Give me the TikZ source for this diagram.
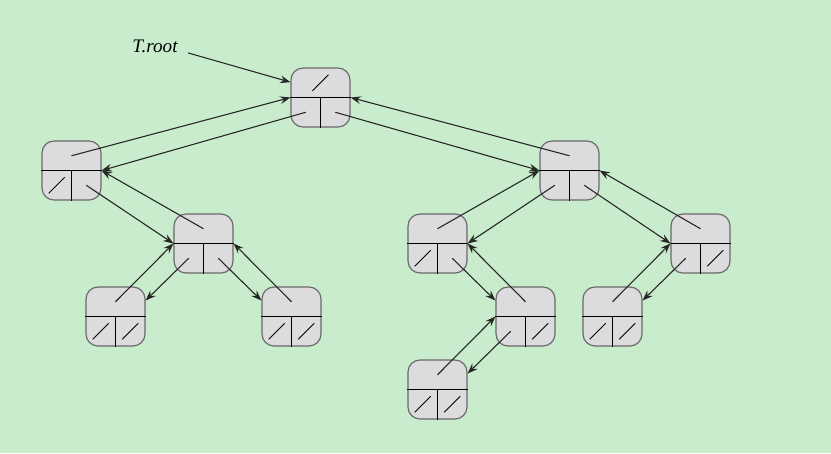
\documentclass[tikz,border=0pt]{standalone}
\usepackage{fontspec}
\setmainfont{Liberation Serif}
\usepackage{tikz}
\usetikzlibrary{arrows.meta, positioning, calc}
\definecolor{bgreen}{RGB}{200,236,204}
\definecolor{cellgray}{RGB}{220,220,223}
\definecolor{rimgray}{RGB}{105,105,105}

\begin{document}
\begin{tikzpicture}[x=0.6pt, y=-0.6pt, >={Stealth[length=6.2pt,width=4.6pt,inset=2.2pt]},
  treenode/.style={draw=rimgray, line width=0.7pt, fill=cellgray, rounded corners=7.2pt,
    minimum width=35.4pt, minimum height=35.4pt, inner sep=0pt},
  cellline/.style={line width=0.6pt, black},
  ptr/.style={->, line width=0.65pt, black!85}]
  \fill[bgreen] (0,0) rectangle (831,453);
  \useasboundingbox (0,0) rectangle (831,453);

  % tree nodes
  \node[treenode] (root) at (320.5,97.5) {};
  \node[treenode] (l)    at (71.5,170.5) {};
  \node[treenode] (r)    at (569.5,170.5) {};
  \node[treenode] (lr)   at (203.5,243.5) {};
  \node[treenode] (lrl)  at (115.5,316.5) {};
  \node[treenode] (lrr)  at (291.5,316.5) {};
  \node[treenode] (rl)   at (437.5,243.5) {};
  \node[treenode] (rlr)  at (525.5,316.5) {};
  \node[treenode] (rlrl) at (437.5,389.5) {};
  \node[treenode] (rr)   at (700.5,243.5) {};
  \node[treenode] (rrl)  at (612.5,316.5) {};

  % fields: parent, left, right
  \foreach \n in {root,l,r,lr,lrl,lrr,rl,rlr,rlrl,rr,rrl} {
    \draw[cellline] (\n.west) -- (\n.east);
    \draw[cellline] (\n.center) -- (\n.south);
    \coordinate (\n-p) at ($(\n)+(0,-14.75)$);
    \coordinate (\n-l) at ($(\n)+(-14.75,14.75)$);
    \coordinate (\n-r) at ($(\n)+(14.75,14.75)$);
  }

  % nil pointers
  \foreach \n/\k in {root/p, l/l, lrl/l, lrl/r, lrr/l, lrr/r, rl/l, rlr/r,
                     rlrl/l, rlrl/r, rr/r, rrl/l, rrl/r}
    \draw[cellline] ($(\n-\k)+(-8,8)$) -- ($(\n-\k)+(8,-8)$);

  % child and parent pointers
  \draw[ptr] (root-l) -- (l.east);
  \draw[ptr] (l-p) -- (root.west);
  \draw[ptr] (root-r) -- (r.west);
  \draw[ptr] (r-p) -- (root.east);
  \draw[ptr] (l-r) -- (lr.west);
  \draw[ptr] (lr-p) -- (l.east);
  \draw[ptr] (lr-l) -- (lrl.28);
  \draw[ptr] (lrl-p) -- (lr.west);
  \draw[ptr] (lr-r) -- (lrr.152);
  \draw[ptr] (lrr-p) -- (lr.east);
  \draw[ptr] (r-l) -- (rl.east);
  \draw[ptr] (rl-p) -- (r.west);
  \draw[ptr] (r-r) -- (rr.west);
  \draw[ptr] (rr-p) -- (r.east);
  \draw[ptr] (rl-r) -- (rlr.152);
  \draw[ptr] (rlr-p) -- (rl.east);
  \draw[ptr] (rlr-l) -- (rlrl.28);
  \draw[ptr] (rlrl-p) -- (rlr.west);
  \draw[ptr] (rr-l) -- (rrl.28);
  \draw[ptr] (rrl-p) -- (rr.west);

  % root label
  \node[inner sep=0pt, anchor=base west, font=\fontsize{11.5}{13}\selectfont\itshape]
    (troot) at (132,52) {T.root};
  \draw[ptr] ([shift={(10,7)}]troot.east) -- (root.153);
\end{tikzpicture}
\end{document}
